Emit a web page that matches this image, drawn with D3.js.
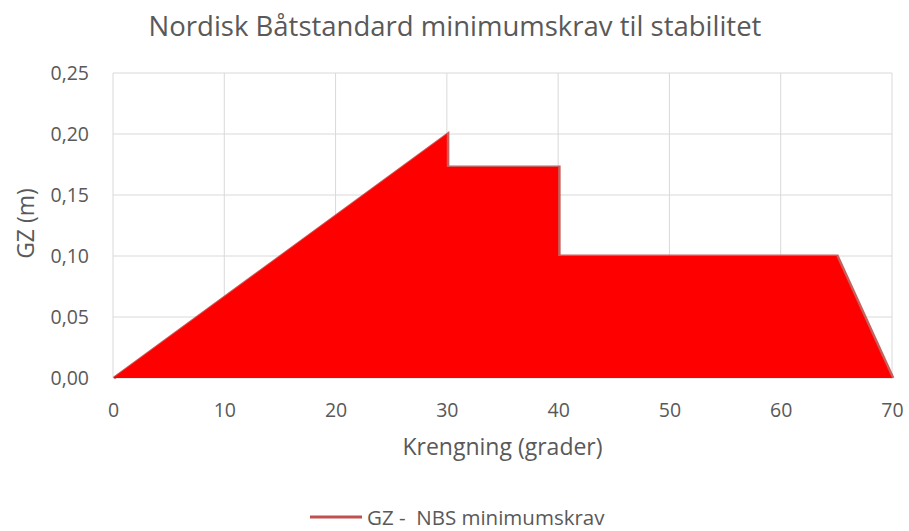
<!DOCTYPE html>
<html>
<head>
<meta charset="utf-8">
<script src="https://cdn.jsdelivr.net/npm/d3@7"></script>
<style>
  body { margin: 0; background: #fff; }
  text { font-family: "Open Sans", sans-serif; fill: #595959; }
</style>
</head>
<body>
<svg width="909" height="531"></svg>
<script>
var angles = [0, 30, 30, 40, 40, 65, 70];
var gz = [0, 0.20, 0.173, 0.173, 0.10, 0.10, 0];
var xTicks = [0, 10, 20, 30, 40, 50, 60, 70];
var yTicks = [0, 0.05, 0.10, 0.15, 0.20, 0.25];
var seriesName = "GZ -  NBS minimumskrav";

var svg = d3.select("svg"),
  margin = { top: 73, right: 17, bottom: 153, left: 113 },
  width = +svg.attr("width") - margin.left - margin.right,
  height = +svg.attr("height") - margin.top - margin.bottom;

var data = angles.map(function(a, i) { return { x: a, y: gz[i] }; });

var x = d3.scaleLinear().domain([0, 70]).range([0, width]),
  y = d3.scaleLinear().domain([0, 0.25]).range([height, 0]);

var fmt = function(d) { return d3.format(".2f")(d).replace(".", ","); };

var g = svg.append("g")
  .attr("transform", "translate(" + margin.left + "," + margin.top + ")");

// gridlines
g.append("g")
  .selectAll("line.h")
  .data(yTicks)
  .enter().append("line")
  .attr("x1", 0).attr("x2", width)
  .attr("y1", function(d) { return y(d); })
  .attr("y2", function(d) { return y(d); })
  .attr("stroke", "#d9d9d9").attr("stroke-width", 1);

g.append("g")
  .selectAll("line.v")
  .data(xTicks)
  .enter().append("line")
  .attr("y1", 0).attr("y2", height)
  .attr("x1", function(d) { return x(d); })
  .attr("x2", function(d) { return x(d); })
  .attr("stroke", "#d9d9d9").attr("stroke-width", 1);

var line = d3.line()
  .x(function(d) { return x(d.x); })
  .y(function(d) { return y(d.y); });

var area = d3.area()
  .x(function(d) { return x(d.x); })
  .y0(y(0))
  .y1(function(d) { return y(d.y); });

// line under the fill, so only its outer half shows
g.append("path")
  .datum(data)
  .attr("d", line)
  .attr("fill", "none")
  .attr("stroke", "#c0504d")
  .attr("stroke-opacity", 0.9)
  .attr("stroke-width", 3)
  .attr("transform", "translate(1,0)");

g.append("path")
  .datum(data)
  .attr("d", area)
  .attr("fill", "#ff0000");

// axes
var xAxis = d3.axisBottom(x).tickValues(xTicks).tickSize(0).tickPadding(25);
var yAxis = d3.axisLeft(y).tickValues(yTicks).tickSize(0).tickPadding(24).tickFormat(fmt);

g.append("g")
  .attr("transform", "translate(0," + height + ")")
  .call(xAxis)
  .call(function(s) { s.select(".domain").remove(); })
  .selectAll("text")
  .style("font-size", "19.5px")
  .attr("fill", "#595959");

g.append("g")
  .call(yAxis)
  .call(function(s) { s.select(".domain").remove(); })
  .selectAll("text")
  .style("font-size", "19.5px")
  .attr("fill", "#595959");

// titles
svg.append("text")
  .attr("x", 455).attr("y", 36)
  .attr("text-anchor", "middle")
  .style("font-size", "27.5px")
  .text("Nordisk Båtstandard minimumskrav til stabilitet");

svg.append("text")
  .attr("x", margin.left + width / 2).attr("y", 455)
  .attr("text-anchor", "middle")
  .style("font-size", "23px")
  .text("Krengning (grader)");

svg.append("text")
  .attr("transform", "translate(34," + (margin.top + height / 2 - 2) + ") rotate(-90)")
  .attr("text-anchor", "middle")
  .style("font-size", "23px")
  .text("GZ (m)");

// legend
var legend = svg.append("g").attr("transform", "translate(310,517)");
legend.append("line")
  .attr("x1", 0).attr("x2", 52)
  .attr("y1", 0).attr("y2", 0)
  .attr("stroke", "#c0504d").attr("stroke-width", 3);
legend.append("text")
  .attr("x", 57).attr("y", 8)
  .style("font-size", "20.5px")
  .style("white-space", "pre")
  .text(seriesName);
</script>
</body>
</html>
